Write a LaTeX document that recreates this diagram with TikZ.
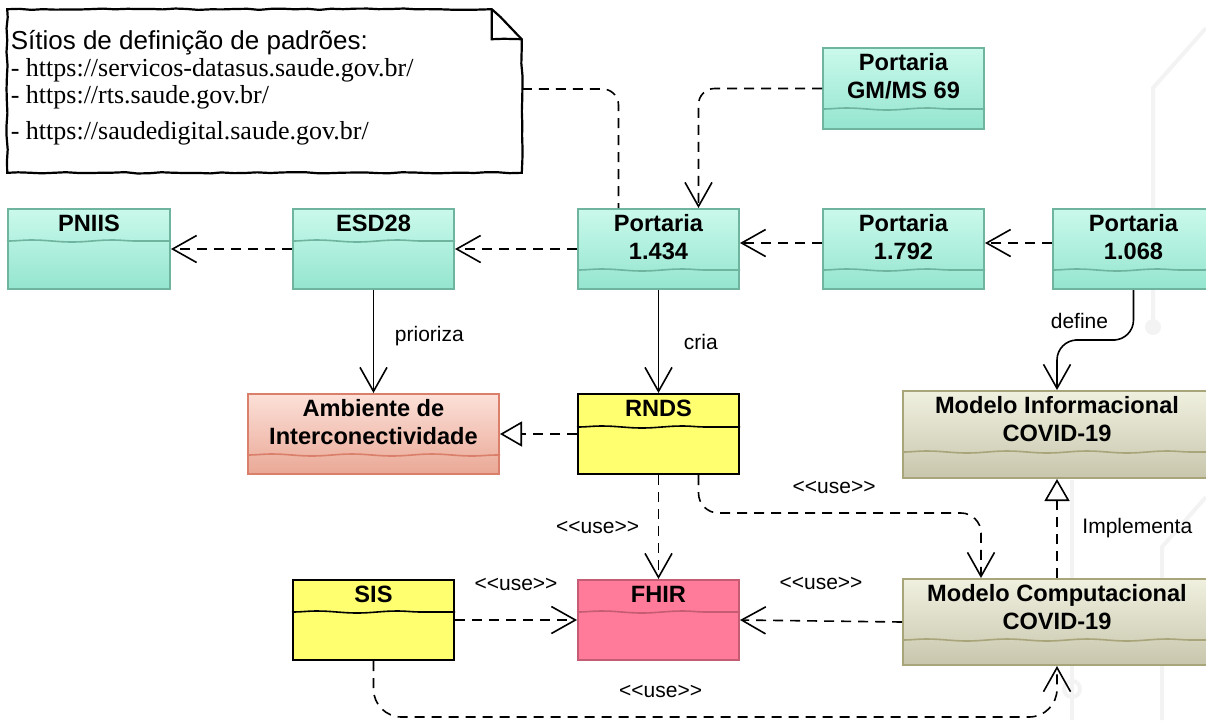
\documentclass[tikz,border=0pt]{standalone}
\usepackage{fontspec}
\setmainfont{Liberation Sans}
\newfontfamily\urlfont{Liberation Serif}
\usetikzlibrary{positioning, calc, arrows.meta, decorations.pathmorphing}

\definecolor{tealtop}{RGB}{202,249,235}
\definecolor{tealbot}{RGB}{148,229,207}
\definecolor{tealedge}{RGB}{110,180,158}
\definecolor{salmontop}{RGB}{252,224,216}
\definecolor{salmonbot}{RGB}{234,168,150}
\definecolor{salmonedge}{RGB}{218,128,106}
\definecolor{khakitop}{RGB}{240,240,224}
\definecolor{khakibot}{RGB}{200,198,172}
\definecolor{khakiedge}{RGB}{168,165,122}
\definecolor{rndsyellow}{RGB}{255,255,112}
\definecolor{fhirpink}{RGB}{255,123,153}
\definecolor{pinkedge}{RGB}{196,92,116}
\definecolor{bgfaint}{RGB}{243,243,243}

% class box: name, style, placement, width, height, divider, title
\newcommand{\classbox}[7]{%
  \node[#2 class, minimum width=#4, minimum height=#5, #3] (#1) {};
  \node[boxtitle] at (#1.north) {#7};
  \draw[#2 div] ([yshift=-#6]#1.north west) -- ([yshift=-#6]#1.north east);
}
\newcommand{\use}{<{}<use>{}>}

\begin{document}
\begin{tikzpicture}[x=0.5pt, y=-0.5pt, line width=0.8pt,
  class/.style={rectangle, line width=1pt, inner sep=0pt},
  wavy/.style={decorate, decoration={snake, amplitude=0.5pt, segment length=40pt}},
  teal class/.style={class, draw=tealedge, top color=tealtop, bottom color=tealbot},
  teal div/.style={draw=tealedge, wavy},
  salmon class/.style={class, draw=salmonedge, top color=salmontop, bottom color=salmonbot},
  salmon div/.style={draw=salmonedge, wavy},
  khaki class/.style={class, draw=khakiedge, top color=khakitop, bottom color=khakibot},
  khaki div/.style={draw=khakiedge, wavy},
  yellow class/.style={class, draw=black, fill=rndsyellow},
  yellow div/.style={draw=black, wavy},
  pink class/.style={class, draw=pinkedge, fill=fhirpink},
  pink div/.style={draw=pinkedge, wavy},
  boxtitle/.style={anchor=north, align=center, inner sep=3pt, font=\bfseries\fontsize{11.8}{14}\selectfont},
  lbl/.style={font=\fontsize{10.5}{12}\selectfont},
  dep/.style={dash pattern=on 5pt off 3.5pt, -{Straight Barb[length=12pt,width=13.5pt]}},
  assoc/.style={-{Straight Barb[length=12pt,width=13.5pt]}},
  real/.style={dash pattern=on 5pt off 3.5pt, -{Triangle[open, length=11pt, width=12.5pt]}},
  sketch/.style={line width=1.1pt, decorate, decoration={random steps, segment length=6pt, amplitude=0.35pt}},
  bgline/.style={draw=bgfaint, line width=2pt}]

\useasboundingbox (0,0) rectangle (1206,720);
\clip (0,0) rectangle (1206,720);

% faint background tracks
\draw[bgline] (1206,28) -- (1153,88) -- (1153,327);
\fill[bgfaint] (1153,327) circle (4pt);
\draw[bgline] (1072,480) -- (1072,720);
\draw[bgline] (1072,689) circle (4pt);
\draw[bgline] (1206,497) -- (1162,547) -- (1162,720);

% note
\node[minimum width=256.5pt, minimum height=81pt, inner sep=0pt] (note) at (264.5,91) {};
\draw[sketch] (note.north west) -- ([xshift=-15pt]note.north east) -- ([yshift=-15pt]note.north east)
  -- (note.south east) -- (note.south west) -- cycle;
\draw[sketch] ([xshift=-15pt]note.north east) |- ([yshift=-15pt]note.north east);
\node[anchor=base west, align=left, inner sep=0pt, font=\fontsize{13}{13.5}\selectfont] at (10,139.5)
  {Sítios de definição de padrões:\\
   {\urlfont - https://servicos-datasus.saude.gov.br/}\\
   {\urlfont - https://rts.saude.gov.br/}\\[4.5pt]
   {\urlfont - https://saudedigital.saude.gov.br/}};

% classes
\classbox{pniis}{teal}{at={(89,249)}}{81pt}{40pt}{16.5pt}{PNIIS}
\classbox{esd}{teal}{right=60.5pt of pniis}{80.5pt}{40pt}{16.5pt}{ESD28}
\classbox{p1434}{teal}{right=61pt of esd}{80.5pt}{40pt}{31pt}{Portaria\\1.434}
\classbox{p1792}{teal}{right=41pt of p1434}{80.5pt}{40pt}{31pt}{Portaria\\1.792}
\classbox{p1068}{teal}{right=33.5pt of p1792}{80.5pt}{40pt}{31pt}{Portaria\\1.068}
\classbox{gm69}{teal}{above=39pt of p1792}{80.5pt}{40.5pt}{31pt}{Portaria\\GM/MS 69}
\classbox{amb}{salmon}{below=51.5pt of esd}{125.5pt}{40pt}{31pt}{Ambiente de\\Interconectividade}
\classbox{rnds}{yellow}{below=51.5pt of p1434}{80.5pt}{40pt}{17pt}{RNDS}
\classbox{fhir}{pink}{below=52pt of rnds}{80.5pt}{40pt}{16.5pt}{FHIR}
\classbox{sis}{yellow}{left=61pt of fhir}{80.5pt}{40pt}{16.5pt}{SIS}
\classbox{modinf}{khaki}{at={(1057,434.5)}}{154pt}{43.5pt}{31pt}{Modelo Informacional\\COVID-19}
\classbox{modcomp}{khaki}{below=49.5pt of modinf}{154pt}{43pt}{31pt}{Modelo Computacional\\COVID-19}

% connectors
\draw[dep] (esd.west) -- (pniis.east);
\draw[dep] (p1434.west) -- (esd.east);
\draw[dep] ([yshift=3pt]p1792.west) -- ([yshift=3pt]p1434.east);
\draw[dep] ([yshift=3pt]p1068.west) -- ([yshift=3pt]p1792.east);
\draw[dep, rounded corners=8pt] (gm69.west) -| ([xshift=20pt]p1434.north);
\draw[dash pattern=on 5pt off 3.5pt, rounded corners=8pt] ([yshift=1pt]note.east) -| ([xshift=-20pt]p1434.north);

\draw[assoc] (esd.south) -- node[lbl, right=7pt, yshift=2.5pt] {prioriza} (amb.north);
\draw[assoc] (p1434.south) -- node[lbl, right=9pt] {cria} (rnds.north);
\draw[assoc, rounded corners=10pt] (p1068.south) |- ($(p1068.south)!0.5!(modinf.north)$)
  node[lbl, pos=0.31, left=9pt] {define} -| (modinf.north);

\draw[real] (rnds.west) -- (amb.east);
\draw[dep] (rnds.south) -- node[lbl, left=6pt] {\use} (fhir.north);
\draw[dep, rounded corners=10pt] ([xshift=20pt]rnds.south) -- ++(0,38)
  -| node[lbl, pos=0.24, above=6pt] {\use} ([xshift=-38pt]modcomp.north);
\draw[real] (modcomp.north) -- node[lbl, right=9pt] {Implementa} (modinf.south);
\draw[dep] (modcomp.west) -- node[lbl, above=12pt] {\use} (fhir.east);
\draw[dep] (sis.east) -- node[lbl, above=11pt] {\use} (fhir.west);
\draw[dep, rounded corners=14pt] (sis.south) -- ++(0,56)
  -| node[lbl, pos=0.21, above=6pt] {\use} (modcomp.south);

\end{tikzpicture}
\end{document}
